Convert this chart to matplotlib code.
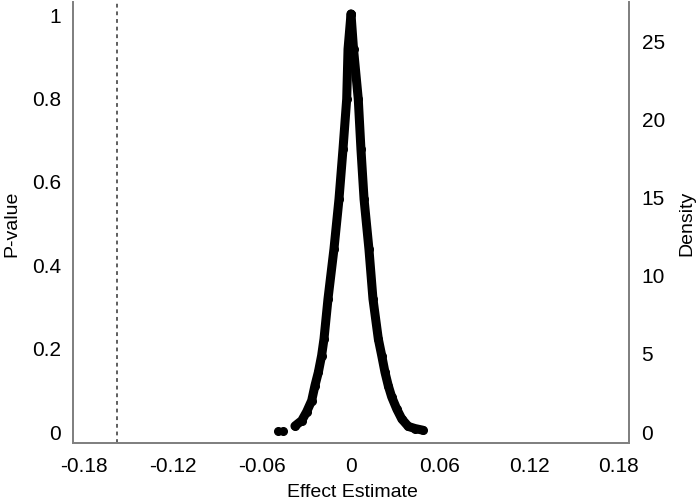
import numpy as np
import matplotlib
matplotlib.use("Agg")
from matplotlib import pyplot as plt

plt.rcParams["font.family"] = ["Liberation Sans", "DejaVu Sans"]

# p-value curve (left branch bottom->peak, right branch peak->bottom)
left_x = [-0.0490, -0.0456, -0.0378, -0.0332, -0.0299, -0.0265, -0.0243, -0.0220,
          -0.0198, -0.0182, -0.0155, -0.0115, -0.0081, -0.0054, -0.0029, -0.0020, 0.0]
left_p = [0.001, 0.001, 0.012, 0.025, 0.046, 0.073, 0.109, 0.141,
          0.181, 0.221, 0.317, 0.436, 0.556, 0.676, 0.796, 0.916, 1.0]
right_x = [0.0, 0.0017, 0.0049, 0.0067, 0.0088, 0.0121, 0.0148, 0.0184, 0.0207,
           0.0229, 0.0251, 0.0274, 0.0308, 0.0342, 0.0386, 0.0431, 0.0483]
right_p = [1.0, 0.916, 0.796, 0.676, 0.556, 0.436, 0.317, 0.221, 0.181,
           0.141, 0.109, 0.082, 0.053, 0.029, 0.011, 0.006, 0.002]

null_line = -0.158  # dashed reference line

x_ticks = [-0.18, -0.12, -0.06, 0, 0.06, 0.12, 0.18]
x_labels = ["-0.18", "-0.12", "-0.06", "0", "0.06", "0.12", "0.18"]
p_ticks = [0, 0.2, 0.4, 0.6, 0.8, 1]
p_labels = ["0", "0.2", "0.4", "0.6", "0.8", "1"]
d_ticks = [0, 5, 10, 15, 20, 25]

fig = plt.figure(figsize=(6.99, 5.02), dpi=100)
ax = fig.add_axes([0.1044, 0.1155, 0.7955, 0.8785])
ax2 = ax.twinx()

# draw the curve: thick line + dots
ax.plot(left_x[2:], left_p[2:], color="black", lw=6.5, solid_capstyle="round", zorder=3)
ax.plot(right_x, right_p, color="black", lw=6.5, solid_capstyle="round", zorder=3)
ax.plot(left_x, left_p, "o", color="black", ms=5.5, zorder=4)
ax.plot(right_x, right_p, "o", color="black", ms=5.5, zorder=4)

ax.axvline(null_line, color="#333333", lw=1.1, ls=(0, (2.5, 2.5)), zorder=2)

ax.set_xlim(-0.1874, 0.1874)
ax.set_ylim(-0.0288, 1.0288)
ax2.set_ylim(-0.767, 27.43)

ax.set_xticks(x_ticks)
ax.set_xticklabels(x_labels)
ax.set_yticks(p_ticks)
ax.set_yticklabels(p_labels)
ax2.set_yticks(d_ticks)

for a in (ax, ax2):
    a.spines["top"].set_visible(False)
    for s in ("left", "right", "bottom"):
        a.spines[s].set_color("#808080")
        a.spines[s].set_linewidth(1.3)
    a.tick_params(length=0, labelsize=15, colors="black")
ax.tick_params(axis="y", pad=8.5)
ax.tick_params(axis="x", pad=9)
ax2.tick_params(axis="y", pad=9)

ax.set_xlabel("Effect Estimate", fontsize=14)
ax.set_ylabel("P-value", fontsize=14)
ax2.set_ylabel("Density", fontsize=14)
ax.xaxis.set_label_coords(0.502, -0.111)
ax.yaxis.set_label_coords(-0.11, 0.5)
ax2.yaxis.set_label_coords(1.104, 0.5)
ax.xaxis.label.set_va("center")
ax.yaxis.label.set_va("center")
ax2.yaxis.label.set_va("center")

fig.savefig("out.png", dpi=100)
